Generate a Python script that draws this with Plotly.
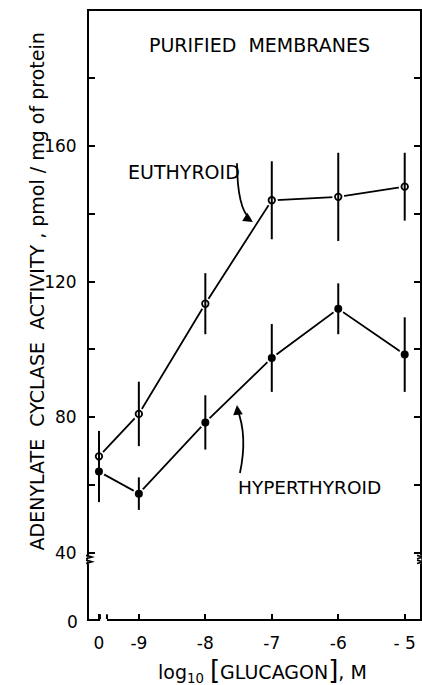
import plotly.graph_objects as go

# ---- data ----
x_labels = ["0", "-9", "-8", "-7", "-6", "- 5"]
x_pos = [-9.6, -9, -8, -7, -6, -5]          # "0" (no glucagon) placed left of the axis break
eu_vals = [68.5, 81, 113.5, 144, 145, 148]
eu_err = [7.5, 9.5, 9, 11.5, 13, 10]
hyper_vals = [64, 57.5, 78.5, 97.5, 112, 98.5]
hyper_err = [9, 4.8, 8, 10, 7.5, 11]
y_tick_vals = [40, 60, 80, 100, 120, 140, 160, 180]
y_tick_text = ["40", "", "80", "", "120", "", "160", ""]

FONT = "DejaVu Sans"
Y0 = 20.54   # axis bottom (labelled 0, below the break)
YTOP = 199.8
XL, XR = -9.75, -4.77

fig = go.Figure()
fig.add_trace(go.Scatter(x=x_pos, y=eu_vals, mode="lines",
                         line=dict(color="black", width=1.8), hoverinfo="skip"))
fig.add_trace(go.Scatter(x=x_pos, y=hyper_vals, mode="lines",
                         line=dict(color="black", width=1.8), hoverinfo="skip"))
# white halos to leave small gaps between lines and markers
fig.add_trace(go.Scatter(x=x_pos + x_pos, y=eu_vals + hyper_vals, mode="markers",
                         marker=dict(color="white", size=12), hoverinfo="skip"))
fig.add_trace(go.Scatter(x=x_pos, y=eu_vals, mode="markers", name="EUTHYROID",
                         marker=dict(symbol="circle-open", color="black", size=6.5,
                                     line=dict(width=1.8)),
                         error_y=dict(type="data", array=eu_err, color="black",
                                      thickness=2, width=0)))
fig.add_trace(go.Scatter(x=x_pos, y=hyper_vals, mode="markers", name="HYPERTHYROID",
                         marker=dict(symbol="circle", color="black", size=8),
                         error_y=dict(type="data", array=hyper_err, color="black",
                                      thickness=2, width=0)))

shapes = []
# x-axis break (gap between "0" and -9)
shapes.append(dict(type="rect", xref="x", yref="paper", x0=-9.582, x1=-9.48,
                   y0=-0.006, y1=0.006, fillcolor="white", line=dict(width=0), layer="above"))
shapes.append(dict(type="line", xref="x", yref="y", x0=-9.585, x1=-9.585,
                   y0=Y0 - 0.3, y1=Y0 + 1.4, line=dict(color="black", width=2), layer="above"))
shapes.append(dict(type="line", xref="x", yref="y", x0=-9.48, x1=-9.48,
                   y0=Y0 - 0.3, y1=Y0 + 1.4, line=dict(color="black", width=2), layer="above"))
# y-axis break marks just below 40 on both sides
for px in (0.0, 1.0):
    d = 0.009
    shapes.append(dict(type="rect", xref="paper", yref="y", x0=px - 0.004, x1=px + 0.004,
                       y0=36.9, y1=39.3, fillcolor="white", line=dict(width=0), layer="above"))
    path = (f"M {px - d},{39.3} L {px + d},{38.8} L {px - d},{38.3} "
            f"M {px - d},{37.9} L {px + d},{37.4} L {px - d},{36.9}")
    shapes.append(dict(type="path", xref="paper", yref="y", path=path,
                       line=dict(color="black", width=1.6), layer="above"))
# curved arrows
shapes.append(dict(type="path", xref="x", yref="y",
                   path="M -7.524,154.9 Q -7.515,141.5 -7.33,138.6",
                   line=dict(color="black", width=1.8)))
shapes.append(dict(type="path", xref="x", yref="y",
                   path="M -7.479,63.6 Q -7.36,74.5 -7.52,82.5",
                   line=dict(color="black", width=1.8)))

annotations = [
    dict(x=-7.18, y=189.8, xref="x", yref="y", text="PURIFIED  MEMBRANES", showarrow=False,
         font=dict(family=FONT, size=19, color="black")),
    dict(x=-8.32, y=152.3, xref="x", yref="y", text="EUTHYROID", showarrow=False,
         font=dict(family=FONT, size=19, color="black")),
    dict(x=-6.43, y=59.2, xref="x", yref="y", text="HYPERTHYROID", showarrow=False,
         font=dict(family=FONT, size=18.5, color="black")),
    # arrowheads
    dict(x=-7.284, y=137.6, xref="x", yref="y", ax=-8, ay=-5, text="", showarrow=True,
         arrowhead=2, arrowsize=1.2, arrowwidth=1.6, arrowcolor="black"),
    dict(x=-7.524, y=83.6, xref="x", yref="y", ax=1, ay=9, text="", showarrow=True,
         arrowhead=2, arrowsize=1.2, arrowwidth=1.6, arrowcolor="black"),
    # y-axis title
    dict(x=-0.196, y=0.539, xref="paper", yref="paper", textangle=-90, showarrow=False,
         text="ADENYLATE  CYCLASE  ACTIVITY , pmol / mg of protein",
         font=dict(family=FONT, size=19, color="black")),
    # "0" label at bottom of y axis
    dict(x=0, y=Y0, xref="paper", yref="y", xanchor="right", xshift=-9, yshift=-3, text="0",
         showarrow=False, font=dict(family=FONT, size=17, color="black")),
    # x-axis title
    dict(x=0.525, y=-0.084, xref="paper", yref="paper", showarrow=False, yanchor="middle",
         text="log<sub>10</sub> <span style='font-size:26px'>[</span>GLUCAGON<span style='font-size:26px'>]</span>, M",
         font=dict(family=FONT, size=19, color="black")),
]

fig.update_layout(
    width=422, height=685,
    margin=dict(l=89, r=2, t=11, b=66),
    paper_bgcolor="white", plot_bgcolor="white",
    showlegend=False,
    shapes=shapes, annotations=annotations,
    xaxis=dict(range=[XL, XR], tickvals=x_pos, ticktext=x_labels, automargin=False,
               showgrid=False, zeroline=False, showline=True, linecolor="black", linewidth=2,
               mirror=True, ticks="inside", ticklen=5, tickwidth=2, tickcolor="black",
               ticklabelstandoff=8,
               tickfont=dict(family=FONT, size=17, color="black")),
    yaxis=dict(range=[Y0, YTOP], tickvals=y_tick_vals, ticktext=y_tick_text, automargin=False,
               showgrid=False, zeroline=False, showline=True, linecolor="black", linewidth=2,
               mirror="ticks", ticks="inside", ticklen=6, tickwidth=2, tickcolor="black",
               ticklabelstandoff=7,
               tickfont=dict(family=FONT, size=17, color="black")),
)

fig.write_html("out.html", config={"displayModeBar": False},
               post_script="document.body.style.margin='0';document.body.style.overflow='hidden';")
